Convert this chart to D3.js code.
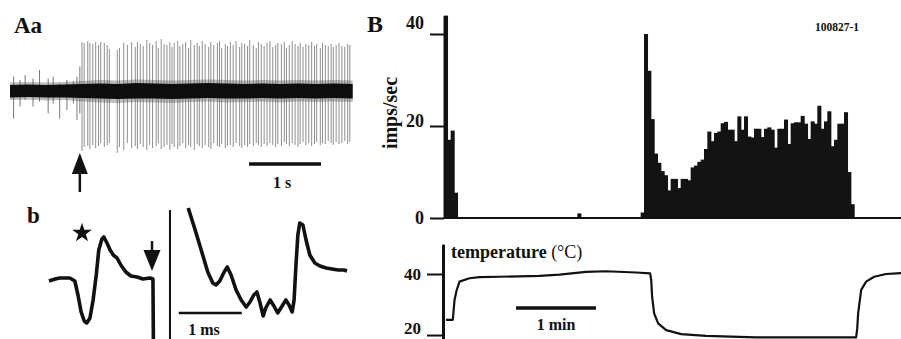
<!DOCTYPE html>
<html><head><meta charset="utf-8">
<script src="https://cdn.jsdelivr.net/npm/d3@7"></script>
<style>
body{margin:0;background:#fff}
svg{display:block}
text{font-family:"Liberation Serif","Times New Roman",serif;font-weight:bold;fill:#111}
</style>
</head><body><svg id="c" width="901" height="339"></svg>
<script>
// ---------- Panel Aa : extracellular recording (time s, amplitude µV) ----------
const preSpikes = [ // [t, up, down]
  [0.05,29,-55],[0.14,22,-31],[0.21,32,-18],[0.32,25,-31],[0.41,42,-21],[0.53,25,-45],
  [0.60,29,-25],[0.69,15,-55],[0.79,22,-38],[0.88,19,-25],[0.93,29,-58],[0.97,49,-45]
];
const spikes = [ // [t, up, down]
  [1.00,98,-120],[1.03,96,-112],[1.08,100,-110],[1.11,96,-116],[1.15,94,-108],[1.19,98,-114],
  [1.23,92,-110],[1.26,98,-104],[1.31,96,-112],[1.35,92,-108],[1.38,84,-104],
  [1.49,82,-124],[1.52,86,-112],[1.58,96,-118],[1.63,92,-104],[1.69,98,-114],[1.74,88,-110],
  [1.77,98,-116],[1.81,94,-106],[1.85,90,-112],[1.90,102,-118],[1.94,96,-108],[1.98,92,-114],
  [2.03,100,-110],[2.06,86,-104],[2.10,104,-116],[2.14,94,-112],[2.18,92,-108],[2.22,98,-118],
  [2.25,88,-106],[2.28,96,-112],[2.33,100,-116],[2.36,90,-110],[2.40,94,-104],[2.44,98,-114],
  [2.48,86,-108],[2.51,102,-112],[2.56,92,-118],[2.60,96,-106],[2.63,90,-110],[2.67,100,-114],
  [2.71,94,-108],[2.76,88,-112],[2.79,98,-116],[2.83,92,-104],[2.88,96,-110],[2.91,100,-112],
  [2.94,86,-106],[2.99,94,-114],[3.02,90,-110],[3.06,98,-108],[3.10,92,-112],[3.14,100,-104],
  [3.19,88,-110],[3.22,96,-114],[3.26,94,-108],[3.30,90,-112],[3.33,102,-106],[3.38,92,-110],
  [3.42,86,-104],[3.45,98,-108],[3.49,94,-112],[3.53,90,-106],[3.57,96,-110],[3.61,100,-104],
  [3.65,88,-108],[3.69,92,-112],[3.72,96,-106],[3.77,94,-110],[3.81,98,-102],[3.84,86,-106],
  [3.88,92,-110],[3.92,100,-104],[3.96,94,-108],[4.00,90,-112],[4.03,96,-106],[4.07,88,-102],
  [4.11,94,-108],[4.15,92,-104],[4.19,98,-110],[4.23,90,-106],[4.26,94,-102],[4.31,86,-108],
  [4.34,96,-104],[4.38,92,-106],[4.42,90,-100],[4.46,94,-104],[4.49,88,-108],[4.53,92,-102],
  [4.57,96,-106],[4.61,90,-104],[4.65,88,-100],[4.69,94,-106],[4.72,92,-102]
];
const noiseT    = [0,0.25,0.5,0.75,1.0,1.25,1.5,1.75,2.0,2.25,2.5,2.75,3.0,3.25,3.5,3.75,4.0,4.25,4.5,4.76];
const noiseHi   = [12,13,12,13,14,15,14,16,15,14,15,16,15,14,15,14,15,14,15,14];
const noiseLo   = [-13,-12,-13,-13,-14,-15,-16,-15,-15,-16,-15,-14,-15,-15,-14,-15,-14,-15,-14,-15];
const fuzzHi    = [17,18,17,18,20,22,21,23,22,21,22,23,22,21,22,21,22,21,22,21];
const fuzzLo    = [-18,-17,-19,-18,-21,-23,-24,-22,-23,-24,-22,-21,-23,-22,-21,-23,-21,-22,-21,-22];

// ---------- Panel b : averaged spike waveforms (ms, µV) ----------
const waveLeft = [[0.00,-2],[0.10,0],[0.17,1],[0.33,1],[0.41,-2],[0.46,-16],[0.51,-33],[0.56,-42],
  [0.60,-44],[0.65,-39],[0.70,-21],[0.75,4],[0.79,29],[0.84,40],[0.87,42],[0.92,36],[0.97,29],
  [1.02,24],[1.08,21],[1.14,14],[1.22,7],[1.30,3],[1.40,2],[1.49,0],[1.60,1],[1.65,0],[1.66,-90]];
const waveRight = [[2.21,71],[2.32,49],[2.43,26],[2.52,7],[2.60,-4],[2.65,-6],[2.71,-2],[2.78,7],
  [2.83,12],[2.89,4],[2.97,-11],[3.05,-21],[3.13,-28],[3.19,-23],[3.25,-16],[3.30,-13],[3.35,-24],
  [3.40,-37],[3.44,-29],[3.51,-21],[3.57,-27],[3.63,-34],[3.70,-27],[3.76,-21],[3.81,-26],
  [3.86,-33],[3.89,-21],[3.92,14],[3.95,44],[3.98,56],[4.03,54],[4.08,39],[4.14,24],[4.22,16],
  [4.30,13],[4.40,11],[4.49,10],[4.59,9],[4.68,9],[4.73,8]];

// ---------- Panel B : histogram (2.5 s bins, imps/sec) ----------
const binSec = 2.5;
const burst1Start = 0;
const burst1 = [44,17,19,5.5];
const strayBin = 40, strayVal = 1;
const burst2Start = 59;
const burst2 = [1.2,40,32,21.5,14,12,10.2,9.3,6,8.5,8.5,6.5,8.5,8.5,8.2,11,11.4,12.2,12.7,15,
  18.8,16.7,18.5,18.8,20.6,20.9,19.2,19.2,16.7,22.1,19.2,22.1,17.7,17.5,19.4,19.4,17.6,19.4,19.7,
  19.2,15.3,19.4,19.4,21.4,16.1,20.6,20.8,20.8,22.2,20.5,17.2,21,20.5,24.4,19.4,21,23.2,15.6,17,
  20.5,20.5,23,10,3];
const histTicks = [0,20,40];

// ---------- Panel B : temperature (s, °C) ----------
const tempT = [1.5,6.6,7.9,9.4,11.6,19.1,26.6,41.6,71.6,86.6,106.6,121.6,144.1,154.6,155.4,156.1,
  157.6,160.6,166.6,177.9,196.6,234.1,309.1,309.9,310.6,312.9,316.6,322.6,331.6,347.4];
const tempC = [25,25,31.5,34.5,37.5,38.6,39,39.1,39.4,39.8,40.7,40.9,40.5,40.2,38,32.6,
  27.1,23.8,21.6,20.3,19.7,19.2,19.2,22,27.1,34.8,37.5,39.1,40,40.4];
const tempTicks = [20,40];

// =================================================================
const svg = d3.select("#c");

// ----- Panel Aa -----
const xA = d3.scaleLinear().domain([0,4.76]).range([10,352.7]);
const yA = d3.scaleLinear().domain([-125,105]).range([153.5,38.5]);
const gA = svg.append("g");
gA.selectAll("line.pre").data(preSpikes).join("line")
  .attr("x1",d=>xA(d[0])).attr("x2",d=>xA(d[0]))
  .attr("y1",d=>yA(d[1])).attr("y2",d=>yA(d[2]))
  .attr("stroke","#777").attr("stroke-width",1);
gA.selectAll("line.sp").data(spikes).join("line")
  .attr("x1",d=>xA(d[0])).attr("x2",d=>xA(d[0]))
  .attr("y1",d=>yA(d[1])).attr("y2",d=>yA(d[2]))
  .attr("stroke","#8f8f8f").attr("stroke-width",1);
const bandIdx = d3.range(noiseT.length);
gA.append("path").datum(bandIdx)
  .attr("d",d3.area().x(i=>xA(noiseT[i])).y0(i=>yA(fuzzLo[i])).y1(i=>yA(fuzzHi[i])))
  .attr("fill","#444").attr("opacity",0.35);
gA.append("path").datum(bandIdx)
  .attr("d",d3.area().x(i=>xA(noiseT[i])).y0(i=>yA(noiseLo[i])).y1(i=>yA(noiseHi[i])))
  .attr("fill","#0d0d0d");
// arrow (stimulus onset)
const ax = xA(0.97);
gA.append("line").attr("x1",ax).attr("x2",ax).attr("y1",192).attr("y2",170).attr("stroke","#111").attr("stroke-width",2.5);
gA.append("path").attr("d",`M${ax},153 L${ax-8},174 L${ax+8},174 Z`).attr("fill","#111");
// scale bar 1 s
gA.append("line").attr("x1",xA(3.32)).attr("x2",xA(4.32)).attr("y1",164).attr("y2",164)
  .attr("stroke","#111").attr("stroke-width",3.4);
gA.append("text").attr("x",(xA(3.32)+xA(4.32))/2-3).attr("y",188).attr("text-anchor","middle")
  .attr("font-size",16).text("1 s");
svg.append("text").attr("x",14).attr("y",33).attr("font-size",23).text("Aa");

// ----- Panel b -----
const xb = d3.scaleLinear().domain([0,4.73]).range([49,347]);
const yb = d3.scaleLinear().domain([-60,70]).range([339,209]);
const lineB = d3.line().x(d=>xb(d[0])).y(d=>yb(d[1]));
svg.append("defs").append("clipPath").attr("id","clipb").append("rect")
  .attr("x",0).attr("y",190).attr("width",360).attr("height",149);
const gb = svg.append("g").attr("clip-path","url(#clipb)");
gb.append("path").datum(waveLeft).attr("d",lineB).attr("fill","none")
  .attr("stroke","#111").attr("stroke-width",3.6).attr("stroke-linejoin","round");
gb.append("path").datum(waveRight).attr("d",lineB).attr("fill","none")
  .attr("stroke","#111").attr("stroke-width",3.6).attr("stroke-linejoin","round");
gb.append("line").attr("x1",xb(1.92)).attr("x2",xb(1.92)).attr("y1",210).attr("y2",339)
  .attr("stroke","#111").attr("stroke-width",2);
// down arrow
const dx = xb(1.635);
gb.append("line").attr("x1",dx).attr("x2",dx).attr("y1",241).attr("y2",254).attr("stroke","#111").attr("stroke-width",2.5);
gb.append("path").attr("d",`M${dx-8.5},250 L${dx+8.5},250 L${dx},271 Z`).attr("fill","#111");
// star
gb.append("path").attr("d",d3.symbol(d3.symbolStar,120)()).attr("transform","translate(82,233)").attr("fill","#111");
// scale bar 1 ms
gb.append("line").attr("x1",xb(2.06)).attr("x2",xb(3.06)).attr("y1",313).attr("y2",313)
  .attr("stroke","#111").attr("stroke-width",2.6);
svg.append("text").attr("x",204).attr("y",335).attr("text-anchor","middle").attr("font-size",16).text("1 ms");
svg.append("text").attr("x",27).attr("y",223).attr("font-size",23).text("b");

// ----- Panel B histogram -----
const xB = d3.scaleLinear().domain([0,342.75]).range([444,901]);
const yH = d3.scaleLinear().domain([0,44]).range([218,15.6]);
const bins = [];
burst1.forEach((v,i)=>bins.push({i:burst1Start+i,v}));
bins.push({i:strayBin,v:strayVal});
burst2.forEach((v,i)=>bins.push({i:burst2Start+i,v}));
const gH = svg.append("g");
gH.selectAll("rect").data(bins).join("rect")
  .attr("x",d=>xB(d.i*binSec)).attr("width",d=>xB((d.i+1)*binSec)-xB(d.i*binSec)+0.7)
  .attr("y",d=>yH(d.v)).attr("height",d=>yH(0)-yH(d.v)).attr("fill","#131313");
gH.append("line").attr("x1",444).attr("x2",901).attr("y1",yH(0)).attr("y2",yH(0)).attr("stroke","#111").attr("stroke-width",2);
const axH = gH.append("g").attr("transform","translate(444,0)")
  .call(d3.axisLeft(yH).tickValues(histTicks).tickSize(14).tickSizeOuter(0).tickPadding(6).tickFormat(d3.format("d")));
axH.select(".domain").attr("stroke","#111").attr("stroke-width",2);
axH.selectAll(".tick line").attr("stroke","#111").attr("stroke-width",2);
axH.selectAll(".tick text").attr("font-size",18).attr("font-family","Liberation Serif").attr("font-weight","bold").attr("fill","#111")
  .attr("dy",d=>d===40?"-0.3em":d===20?"0.05em":"0.32em");
svg.append("text").attr("transform","translate(397,113) rotate(-90)").attr("text-anchor","middle")
  .attr("font-size",20).text("imps/sec");
svg.append("text").attr("x",367).attr("y",32).attr("font-size",24).text("B");
svg.append("text").attr("x",815).attr("y",31).attr("font-size",11.5).text("100827-1");

// ----- Panel B temperature -----
const yT = d3.scaleLinear().domain([18.7,49.8]).range([339,244.1]);
const gT = svg.append("g");
gT.append("path").datum(d3.range(tempT.length))
  .attr("d",d3.line().x(i=>xB(tempT[i])).y(i=>yT(tempC[i])))
  .attr("fill","none").attr("stroke","#111").attr("stroke-width",2.2).attr("stroke-linejoin","round");
const axT = gT.append("g").attr("transform","translate(443,0)")
  .call(d3.axisLeft(yT).tickValues(tempTicks).tickSize(16).tickSizeOuter(0).tickPadding(6).tickFormat(d3.format("d")));
axT.select(".domain").attr("stroke","#111").attr("stroke-width",3);
axT.selectAll(".tick line").attr("stroke","#111").attr("stroke-width",2);
axT.selectAll(".tick text").attr("font-size",17).attr("font-family","Liberation Serif").attr("font-weight","bold").attr("fill","#111")
  .attr("dy",d=>d===20?"-0.12em":"0.32em");
const tl = svg.append("text").attr("x",451).attr("y",258).attr("font-size",18);
tl.append("tspan").text("temperature ");
tl.append("tspan").attr("font-weight","normal").text("(°C)");
// 1 min scale bar
gT.append("line").attr("x1",xB(54)).attr("x2",xB(114)).attr("y1",308).attr("y2",308)
  .attr("stroke","#111").attr("stroke-width",3.5);
svg.append("text").attr("x",(xB(54)+xB(114))/2).attr("y",330).attr("text-anchor","middle")
  .attr("font-size",16).text("1 min");
</script></body></html>
